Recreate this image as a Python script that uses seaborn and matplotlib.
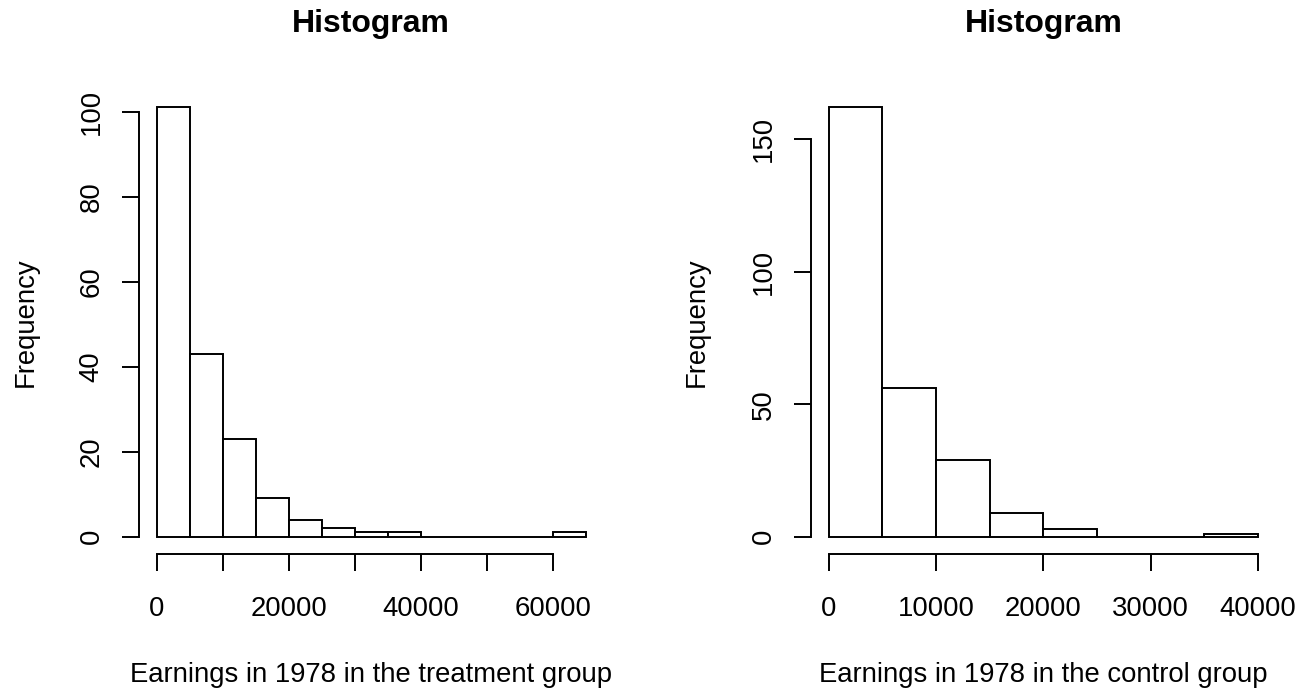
import matplotlib
matplotlib.use("Agg")
import matplotlib.pyplot as plt
import seaborn as sns
import numpy as np
import pandas as pd

# histogram counts (bins of 5000)
treat_edges = [0, 5000, 10000, 15000, 20000, 25000, 30000, 35000, 40000,
               45000, 50000, 55000, 60000, 65000]
treat_counts = [101, 43, 23, 9, 4, 2, 1, 1, 0, 0, 0, 0, 1]

ctrl_edges = [0, 5000, 10000, 15000, 20000, 25000, 30000, 35000, 40000]
ctrl_counts = [162, 56, 29, 9, 3, 0, 0, 1]

treat_xticks = [0, 10000, 20000, 30000, 40000, 50000, 60000]
treat_xlabels = ["0", "", "20000", "", "40000", "", "60000"]
treat_yticks = [0, 20, 40, 60, 80, 100]

ctrl_xticks = [0, 10000, 20000, 30000, 40000]
ctrl_xlabels = ["0", "10000", "20000", "30000", "40000"]
ctrl_yticks = [0, 50, 100, 150]

sns.set_style("white")
plt.rcParams["font.family"] = ["Liberation Sans", "DejaVu Sans"]
plt.rcParams["text.color"] = "black"
plt.rcParams["axes.labelcolor"] = "black"

fig = plt.figure(figsize=(13.11, 6.94), dpi=100)
ax1 = fig.add_axes([0.1064, 0.2019, 0.3535, 0.668])
ax2 = fig.add_axes([0.6189, 0.2019, 0.3539, 0.668])

LW = 1.4
FS = 19.8


def r_hist(ax, edges, counts, xticks, xlabels, yticks, xlabel):
    e = np.array(edges, dtype=float)
    df = pd.DataFrame({"x": (e[:-1] + e[1:]) / 2, "n": counts})
    sns.histplot(data=df, x="x", weights="n", bins=list(edges), ax=ax,
                 color="white", edgecolor="black", linewidth=LW, alpha=1)
    lo, hi = edges[0], edges[-1]
    pad = 0.04 * (hi - lo)
    ax.set_xlim(lo - pad, hi + pad)
    ymax = max(counts)
    ax.set_ylim(-0.04 * ymax, ymax * 1.04)

    for s in ["top", "right"]:
        ax.spines[s].set_visible(False)
    ax.spines["bottom"].set_bounds(xticks[0], xticks[-1])
    ax.spines["left"].set_bounds(yticks[0], yticks[-1])
    for s in ["bottom", "left"]:
        ax.spines[s].set_linewidth(LW)
        ax.spines[s].set_color("black")

    ax.set_xticks(xticks)
    ax.set_xticklabels(xlabels)
    ax.set_yticks(yticks)
    ax.set_yticklabels([str(v) for v in yticks])
    ax.tick_params(axis="both", direction="out", length=12, width=LW,
                   color="black", labelsize=FS, labelcolor="black",
                   bottom=True, left=True)
    ax.tick_params(axis="x", pad=18)
    ax.tick_params(axis="y", pad=13, labelrotation=90)
    for lab in ax.get_yticklabels():
        lab.set_va("center")

    ax.set_xlabel(xlabel, fontsize=FS)
    ax.xaxis.set_label_coords(0.5, -0.2774)
    ax.xaxis.label.set_va("baseline")
    ax.set_ylabel("Frequency", fontsize=FS)
    ax.yaxis.set_label_coords(-0.246, 0.5)
    ax.yaxis.label.set_va("center")
    ax.set_title("Histogram", fontsize=23, fontweight="bold", y=1.1247,
                 va="baseline", pad=0)
    ax.grid(False)


r_hist(ax1, treat_edges, treat_counts, treat_xticks, treat_xlabels,
       treat_yticks, "Earnings in 1978 in the treatment group")
r_hist(ax2, ctrl_edges, ctrl_counts, ctrl_xticks, ctrl_xlabels,
       ctrl_yticks, "Earnings in 1978 in the control group")

fig.savefig("out.png", dpi=100)
